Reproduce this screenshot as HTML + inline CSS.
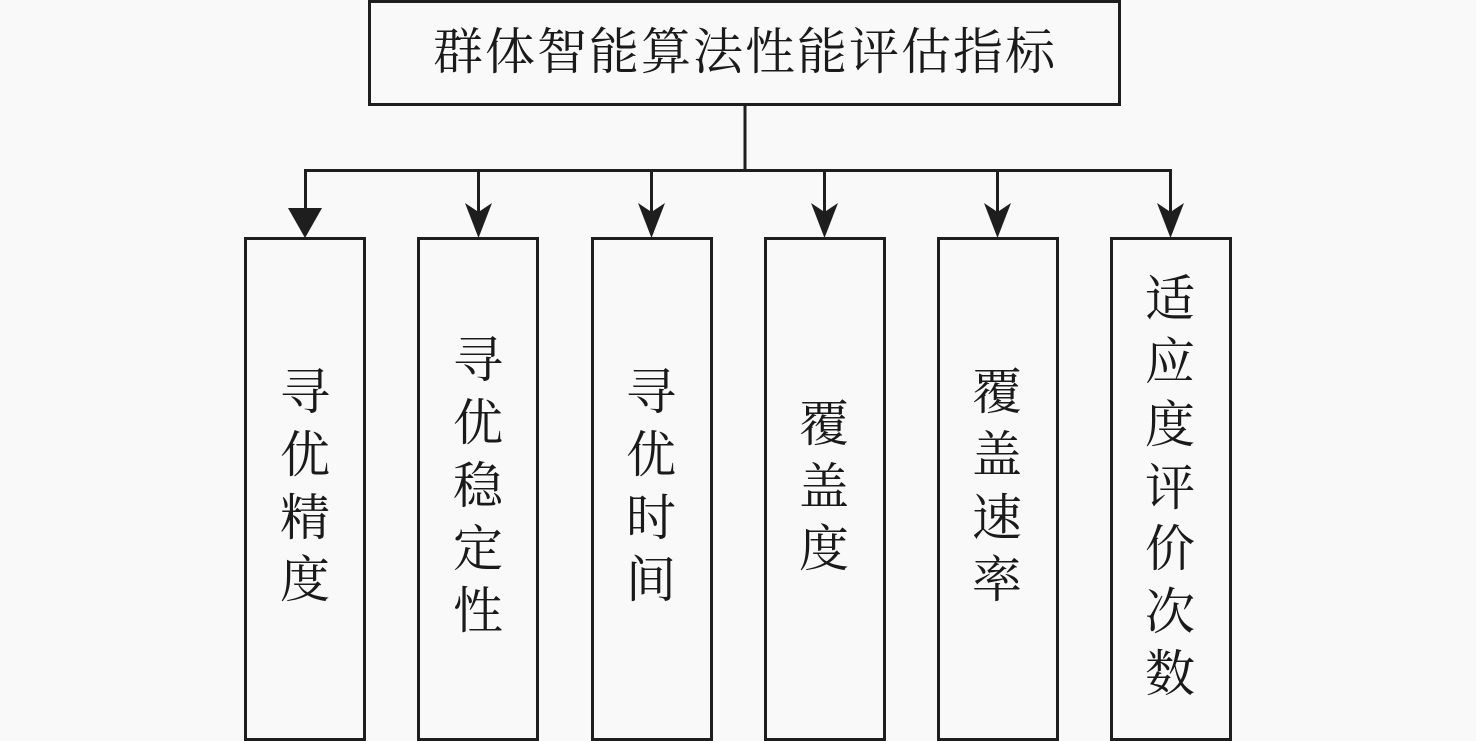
<!DOCTYPE html>
<html><head><meta charset="utf-8"><style>
html,body{margin:0;padding:0;background:#f9f9f9;width:1476px;height:741px;overflow:hidden}
svg{display:block}
text{font-family:"Liberation Serif","Noto Serif CJK SC",serif;font-size:50px;fill:#1a1a1a;text-anchor:middle}
</style></head><body>
<svg width="1476" height="741" viewBox="0 0 1476 741" xmlns="http://www.w3.org/2000/svg">
<rect width="1476" height="741" fill="#f9f9f9"/>
<g fill="none" stroke="#1e1e1e" stroke-width="3">
<rect x="369.5" y="1.5" width="750" height="103"/>
<rect x="245.5" y="238.5" width="119" height="501"/>
<rect x="418.5" y="238.5" width="119" height="501"/>
<rect x="592.5" y="238.5" width="119" height="501"/>
<rect x="765.5" y="238.5" width="119" height="501"/>
<rect x="938.5" y="238.5" width="119" height="501"/>
<rect x="1111.5" y="238.5" width="119" height="501"/>
<path d="M745 105V170.5M305.500 215V170.500H1170.500V215M478.500 170V215M651.500 170V215M824.500 170V215M997.500 170V215"/>
</g>
<g fill="#1e1e1e">
<path d="M288 208H322L305 238Z"/>
<path d="M465 203L478.500 212L492 203L478.500 238Z"/>
<path d="M638 203L651.500 212L665 203L651.500 238Z"/>
<path d="M811 203L824.500 212L838 203L824.500 238Z"/>
<path d="M984 203L997.500 212L1011 203L997.500 238Z"/>
<path d="M1157 203L1170.500 212L1184 203L1170.500 238Z"/>
</g>
<text x="744" y="69" textLength="622" lengthAdjust="spacing">群体智能算法性能评估指标</text>
<g transform="translate(0 1)">
<text x="305" y="408">寻</text><text x="305" y="471">优</text><text x="305" y="534">精</text><text x="305" y="596">度</text>
<text x="478" y="376">寻</text><text x="478" y="439">优</text><text x="478" y="502">稳</text><text x="478" y="565">定</text><text x="478" y="627">性</text>
<text x="651" y="408">寻</text><text x="651" y="471">优</text><text x="651" y="534">时</text><text x="651" y="596">间</text>
<text x="824" y="440">覆</text><text x="824" y="503">盖</text><text x="824" y="565">度</text>
<text x="997" y="408">覆</text><text x="997" y="471">盖</text><text x="997" y="534">速</text><text x="997" y="596">率</text>
<text x="1170" y="315">适</text><text x="1170" y="378">应</text><text x="1170" y="441">度</text><text x="1170" y="504">评</text><text x="1170" y="565">价</text><text x="1170" y="628">次</text><text x="1170" y="690">数</text>
</g>
</svg>
</body></html>
